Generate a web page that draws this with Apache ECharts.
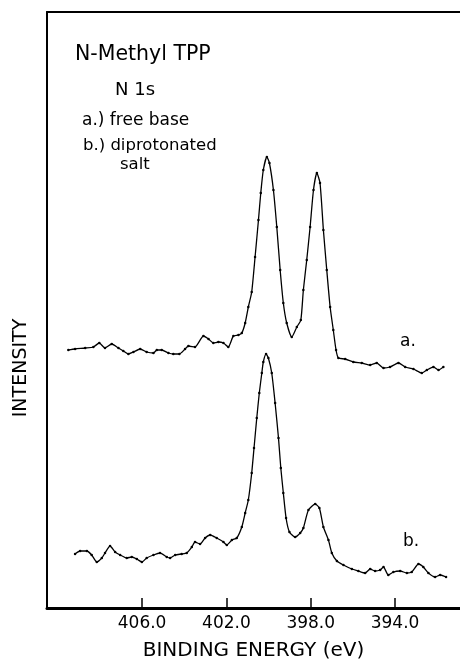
<!DOCTYPE html>
<html>
<head>
<meta charset="utf-8">
<script src="https://cdn.jsdelivr.net/npm/echarts@6/dist/echarts.min.js"></script>
<style>
  html, body { margin: 0; padding: 0; background: #fff; }
  #chart { width: 460px; height: 661px; }
</style>
</head>
<body>
<div id="chart"></div>
<script>
// binding energy (eV) and intensity (arb. units)
var energyA = [409.50,409.18,408.70,408.31,408.03,407.76,407.44,407.12,406.89,406.65,406.41,406.09,405.78,405.46,405.30,405.07,404.75,404.52,404.23,403.96,403.80,403.49,403.09,402.85,402.62,402.38,402.14,401.91,401.67,401.43,401.27,401.11,400.96,400.80,400.64,400.48,400.37,400.25,400.08,399.96,399.77,399.61,399.45,399.30,399.14,398.90,398.66,398.47,398.35,398.19,398.03,397.87,397.71,397.56,397.40,397.24,397.08,396.93,396.80,396.69,396.37,395.98,395.58,395.18,394.87,394.55,394.24,393.84,393.52,393.13,392.73,392.49,392.18,391.94,391.71];
var intensityA = [258,259,260,261,265,260,264,260,257,254,256,259,256,255,258,258,255,254,254,259,262,261,272,269,265,266,265,261,272,273,275,285,301,316,351,388,415,438,451,445,418,381,338,305,285,271,281,288,318,348,381,418,435,425,378,338,301,278,258,250,249,246,245,243,245,240,241,245,241,239,235,238,241,238,241];

var energyB = [409.18,408.94,408.62,408.39,408.15,407.91,407.76,407.52,407.28,407.04,406.73,406.49,406.25,406.01,405.78,405.46,405.15,404.83,404.67,404.43,404.12,403.88,403.64,403.49,403.25,403.01,402.77,402.46,402.14,401.98,401.74,401.51,401.27,401.11,400.96,400.80,400.69,400.56,400.44,400.32,400.25,400.12,400.01,399.85,399.69,399.53,399.42,399.30,399.17,399.01,398.74,398.50,398.35,398.11,397.79,397.59,397.40,397.16,397.00,396.76,396.45,396.05,395.74,395.42,395.18,394.95,394.71,394.55,394.32,394.08,393.76,393.44,393.21,392.89,392.66,392.42,392.10,391.86,391.58];
var intensityB = [54,57,57,53,46,50,55,62,56,53,50,51,49,46,50,53,55,51,50,53,54,55,61,66,64,70,73,70,66,63,68,70,81,95,108,135,160,190,215,235,246,254,250,235,205,170,140,115,90,76,71,75,80,98,104,100,81,68,55,47,43,39,37,35,39,37,38,41,33,36,37,35,36,44,41,35,31,33,31];

var tickValues = [406, 402, 398, 394];

function pairs(xs, ys) {
    var out = [];
    for (var i = 0; i < xs.length; i++) out.push([xs[i], ys[i]]);
    return out;
}

var font = '"DejaVu Sans", sans-serif';
var chart = echarts.init(document.getElementById('chart'));

var option = {
    animation: false,
    backgroundColor: '#fff',
    grid: { left: 47, right: 0, top: 12, bottom: 53, outerBoundsMode: 'none' },
    xAxis: [{
        type: 'value',
        inverse: true,
        min: 390.92,
        max: 410.51,
        position: 'bottom',
        splitLine: { show: false },
        axisLine: { lineStyle: { color: '#000', width: 3 } },
        axisTick: { show: true, inside: true, length: 10, customValues: tickValues,
            lineStyle: { color: '#000', width: 1.5 } },
        axisLabel: { customValues: tickValues, color: '#000', fontSize: 17, fontFamily: font, margin: 7,
            formatter: function (v) { return v.toFixed(1); } },
        name: 'BINDING ENERGY (eV)',
        nameLocation: 'middle',
        nameGap: 33,
        nameTextStyle: { color: '#000', fontSize: 20, fontFamily: font }
    }, {
        type: 'value',
        inverse: true,
        min: 390.92,
        max: 410.51,
        position: 'top',
        splitLine: { show: false },
        axisLine: { lineStyle: { color: '#000', width: 2 } },
        axisTick: { show: false },
        axisLabel: { show: false }
    }],
    yAxis: {
        type: 'value',
        min: 0,
        max: 596,
        splitLine: { show: false },
        axisLine: { show: true, lineStyle: { color: '#000', width: 2 } },
        axisTick: { show: false },
        axisLabel: { show: false }
    },
    graphic: [
        { type: 'text', x: 21, y: 368, rotation: Math.PI / 2,
            style: { text: 'INTENSITY', font: '19px ' + font, fill: '#000', align: 'center', verticalAlign: 'middle' } },
        { type: 'text', left: 75, top: 44, style: { text: 'N-Methyl TPP', font: '20.5px ' + font, fill: '#000' } },
        { type: 'text', left: 115, top: 81, style: { text: 'N 1s', font: '18px ' + font, fill: '#000' } },
        { type: 'text', left: 82, top: 112, style: { text: 'a.) free base', font: '17px ' + font, fill: '#000' } },
        { type: 'text', left: 83, top: 137, style: { text: 'b.) diprotonated', font: '16.5px ' + font, fill: '#000' } },
        { type: 'text', left: 120, top: 156, style: { text: 'salt', font: '16.5px ' + font, fill: '#000' } },
        { type: 'text', left: 400, top: 333, style: { text: 'a.', font: '17px ' + font, fill: '#000' } },
        { type: 'text', left: 403, top: 533, style: { text: 'b.', font: '17px ' + font, fill: '#000' } }
    ],
    series: [{
        name: 'a) free base',
        type: 'line',
        data: pairs(energyA, intensityA),
        smooth: 0.2,
        symbol: 'circle',
        symbolSize: 2.5,
        itemStyle: { color: '#000' },
        lineStyle: { color: '#000', width: 1.3 }
    }, {
        name: 'b) diprotonated salt',
        type: 'line',
        data: pairs(energyB, intensityB),
        smooth: 0.2,
        symbol: 'circle',
        symbolSize: 2.5,
        itemStyle: { color: '#000' },
        lineStyle: { color: '#000', width: 1.3 }
    }]
};

chart.setOption(option);
</script>
</body>
</html>
